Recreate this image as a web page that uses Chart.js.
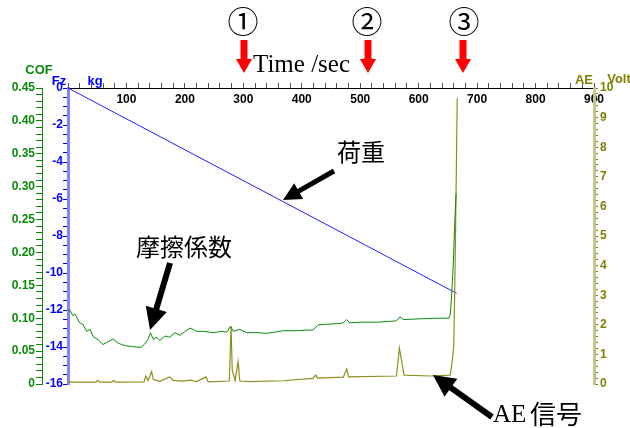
<!DOCTYPE html>
<html lang="ja">
<head>
<meta charset="UTF-8">
<title>COF / Fz / AE</title>
<script src="https://cdn.jsdelivr.net/npm/chart.js"></script>
<style>
  html, body { margin: 0; padding: 0; background: #fff; }
  #wrap { width: 630px; height: 428px; position: relative; }
</style>
</head>
<body>
<div id="wrap"><canvas id="chart"></canvas></div>
<script>
// --- data ---
const cofTime = [0, 3, 8, 12, 20, 26, 32, 38, 43, 52, 60, 66, 72, 78, 86, 92, 100, 110, 118, 126, 132, 137, 141, 146, 152, 157, 166, 174, 183, 192, 200, 209, 214, 220, 232, 249, 262, 272, 278, 283, 294, 306, 325, 340, 355, 368, 390, 410, 419, 428, 445, 465, 471, 477, 482, 500, 530, 562, 568, 574, 600, 630, 652, 654, 656, 658, 660, 662, 664];
const cofValue = [0.112, 0.113, 0.104, 0.106, 0.093, 0.090, 0.080, 0.083, 0.072, 0.067, 0.060, 0.063, 0.066, 0.068, 0.062, 0.060, 0.058, 0.057, 0.056, 0.056, 0.062, 0.068, 0.078, 0.068, 0.071, 0.066, 0.073, 0.071, 0.078, 0.074, 0.080, 0.085, 0.083, 0.080, 0.080, 0.078, 0.080, 0.079, 0.088, 0.080, 0.083, 0.078, 0.078, 0.077, 0.079, 0.081, 0.081, 0.082, 0.082, 0.090, 0.091, 0.092, 0.093, 0.098, 0.093, 0.094, 0.094, 0.096, 0.102, 0.098, 0.099, 0.100, 0.100, 0.105, 0.13, 0.16, 0.20, 0.25, 0.29];

const fzTime = [0, 665];
const fzLoad = [0, -11.1];

const aeTime = [0, 48, 51, 54, 75, 78, 81, 130, 133, 137, 143, 146, 157, 174, 180, 197, 209, 220, 236, 240, 276, 279, 281, 286, 291, 294, 311, 368, 419, 424, 427, 471, 477, 480, 562, 567, 571, 575, 620, 654, 657, 660, 662, 664, 666];
const aeVolt = [0.06, 0.06, 0.12, 0.06, 0.06, 0.12, 0.06, 0.07, 0.27, 0.12, 0.42, 0.15, 0.09, 0.24, 0.12, 0.10, 0.13, 0.08, 0.24, 0.07, 0.10, 1.95, 0.47, 0.12, 0.76, 0.10, 0.08, 0.11, 0.19, 0.30, 0.20, 0.23, 0.50, 0.24, 0.27, 1.21, 0.76, 0.30, 0.27, 0.30, 0.70, 1.26, 3.5, 6.5, 9.65];

// major tick labels
const timeTicks = [100, 200, 300, 400, 500, 600, 700, 800, 900];
const cofTicks = [0, 0.05, 0.10, 0.15, 0.20, 0.25, 0.30, 0.35, 0.40, 0.45];
const cofTickLabels = ['0', '0.05', '0.10', '0.15', '0.20', '0.25', '0.30', '0.35', '0.40', '0.45'];
const fzTicks = [0, -2, -4, -6, -8, -10, -12, -14, -16];
const aeTicks = [0, 1, 2, 3, 4, 5, 6, 7, 8, 9, 10];

const green = '#0a8a0a';
const blue = '#0000ff';
const olive = '#808000';

function pairs(xs, ys) { return xs.map((x, i) => ({ x: x, y: ys[i] })); }

// evenly spaced small ticks between min and max
function minorTicks(min, max, n) {
  const out = [];
  for (let i = 0; i <= n; i++) out.push({ value: +(min + (max - min) * i / n).toFixed(6) });
  return out;
}

function labelFrom(majors, labels) {
  return function (v) {
    const i = majors.findIndex(m => Math.abs(m - v) < 1e-6);
    return i < 0 ? '' : String(labels ? labels[i] : majors[i]);
  };
}

Chart.defaults.font.family = 'Arial, "Liberation Sans", sans-serif';
Chart.defaults.font.size = 12;
Chart.defaults.font.weight = 'bold';

function arrow(c, x1, y1, x2, y2, w, head, half, color) {
  const a = Math.atan2(y2 - y1, x2 - x1);
  const bx = x2 - Math.cos(a) * head, by = y2 - Math.sin(a) * head;
  c.strokeStyle = color; c.fillStyle = color;
  c.lineWidth = w; c.lineCap = 'butt';
  c.beginPath(); c.moveTo(x1, y1); c.lineTo(bx + Math.cos(a) * 2, by + Math.sin(a) * 2); c.stroke();
  c.beginPath();
  c.moveTo(x2, y2);
  c.lineTo(bx - Math.sin(a) * half, by + Math.cos(a) * half);
  c.lineTo(bx + Math.sin(a) * half, by - Math.cos(a) * half);
  c.closePath(); c.fill();
}

const notes = {
  id: 'notes',
  afterDraw(chart) {
    const c = chart.ctx;
    c.save();
    c.textBaseline = 'middle';
    c.textAlign = 'center';
    c.font = 'bold 13px Arial, "Liberation Sans"';
    c.fillStyle = green; c.fillText('COF', 39, 70);
    c.fillStyle = blue; c.fillText('Fz', 59, 81); c.fillText('kg', 95, 81);
    c.fillStyle = olive; c.fillText('AE', 584, 80); c.fillText('Volt', 619, 79);

    // circled numbers and red arrows
    c.fillStyle = '#000';
    c.font = '31px "Liberation Serif", "DejaVu Serif", "Noto Sans CJK JP"';
    [[243, '\u2460'], [367, '\u2461'], [464, '\u2462']].forEach(([x, s]) => c.fillText(s, x, 25));
    [244, 368, 463].forEach(x => {
      c.fillStyle = '#ff0000';
      c.fillRect(x - 3.5, 40, 7, 20);
      c.beginPath(); c.moveTo(x - 8, 59); c.lineTo(x + 8, 59); c.lineTo(x, 73); c.closePath(); c.fill();
    });
    c.fillStyle = '#000';
    c.textAlign = 'left'; c.textBaseline = 'alphabetic';
    c.font = '25px "Liberation Serif", "Times New Roman", serif';
    c.fillText('Time /sec', 253, 72);

    // Japanese labels
    c.font = '24px "Noto Sans CJK JP"';
    c.textAlign = 'center'; c.textBaseline = 'middle';
    c.fillText('荷重', 361, 152);
    c.fillText('摩擦係数', 184, 247);
    c.textAlign = 'left';
    c.font = '25px "Liberation Serif", serif';
    c.fillText('AE', 493, 415);
    c.font = '26px "Noto Sans CJK JP"';
    c.fillText('信号', 530, 414);

    arrow(c, 334, 171, 283, 200, 5, 18, 9, '#000');
    arrow(c, 170, 263, 150, 330, 6, 22, 11, '#000');
    arrow(c, 492, 417, 433, 375, 6, 22, 11, '#000');
    c.restore();
  }
};

new Chart(document.getElementById('chart'), {
  type: 'line',
  data: {
    datasets: [
      { label: 'COF', data: pairs(cofTime, cofValue), yAxisID: 'yCof', borderColor: green, borderWidth: 1, pointRadius: 0, tension: 0 },
      { label: 'AE', data: pairs(aeTime, aeVolt), yAxisID: 'yAe', borderColor: '#8e8e1e', borderWidth: 1.2, pointRadius: 0, tension: 0 },
      { label: 'Fz', data: pairs(fzTime, fzLoad), yAxisID: 'yFz', borderColor: '#2020ff', borderWidth: 1, pointRadius: 0, tension: 0 }
    ]
  },
  options: {
    responsive: true,
    maintainAspectRatio: false,
    animation: false,
    layout: { padding: { left: 0, right: 0, top: 0, bottom: 44 } },
    plugins: { legend: { display: false }, tooltip: { enabled: false } },
    scales: {
      x: {
        type: 'linear', position: 'top', min: 0, max: 900,
        afterBuildTicks: s => { s.ticks = minorTicks(0, 900, 45); },
        afterFit: s => { s.height = 88; },
        grid: { drawOnChartArea: false, tickLength: 5, color: '#555' },
        border: { color: '#000', width: 1 },
        // mirror puts the labels just under the axis line, inside the plot
        ticks: { autoSkip: false, maxRotation: 0, mirror: true, padding: 4, color: '#000', callback: labelFrom(timeTicks) }
      },
      yCof: {
        position: 'left', weight: 2, min: 0, max: 0.45,
        afterBuildTicks: s => { s.ticks = minorTicks(0, 0.45, 45); },
        afterFit: s => { s.width = 42; },
        grid: { drawOnChartArea: false, tickLength: 6, color: green },
        border: { color: green, width: 1 },
        ticks: { autoSkip: false, padding: 1, color: green, callback: labelFrom(cofTicks, cofTickLabels) }
      },
      yFz: {
        position: 'left', weight: 1, min: -16, max: 0,
        afterBuildTicks: s => { s.ticks = minorTicks(-16, 0, 32); },
        afterFit: s => { s.width = 26; },
        grid: { drawOnChartArea: false, tickLength: 5, color: blue },
        border: { color: 'rgba(90,90,255,0.75)', width: 3 },
        ticks: { autoSkip: false, padding: 0, color: blue, callback: labelFrom(fzTicks) }
      },
      yAe: {
        position: 'right', min: 0, max: 10,
        afterBuildTicks: s => { s.ticks = minorTicks(0, 10, 50); },
        afterFit: s => { s.width = 36; },
        grid: { drawOnChartArea: false, tickLength: 4, color: olive },
        border: { color: '#c4c48c', width: 3 },
        ticks: { autoSkip: false, padding: 2, color: olive, callback: labelFrom(aeTicks) }
      }
    }
  },
  plugins: [notes]
});
</script>
</body>
</html>
